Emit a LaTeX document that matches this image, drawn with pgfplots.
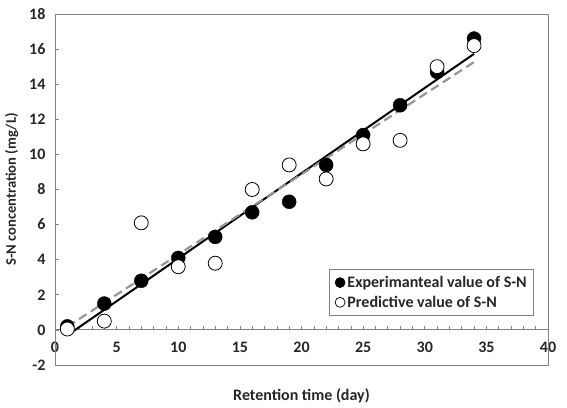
\documentclass[border=0pt]{standalone}
\usepackage{pgfplots}
\pgfplotsset{compat=1.18}
\usepackage{fontspec}
\setmainfont{Carlito}
\definecolor{framegray}{RGB}{130,130,130}
\definecolor{dashgray}{RGB}{150,150,150}
\begin{document}
\begin{tikzpicture}
\begin{axis}[
  scale only axis,
  width=493pt, height=351pt,
  xmin=0, xmax=40, ymin=-2, ymax=18,
  axis x line=middle, axis y line=left,
  axis line style={framegray, line width=0.8pt, -},
  hide obscured x ticks=false, hide obscured y ticks=false,
  xtick={0,5,...,40}, ytick={-2,0,...,18},
  minor x tick num=4,
  tick align=inside,
  major tick length=4pt, minor tick length=4pt,
  tick style={framegray, line width=0.6pt},
  /pgf/number format/assume math mode=true,
  tick label style={font=\bfseries\fontsize{16}{18}\selectfont, text=black!85},
  xticklabel style={yshift=-9pt},
  yticklabel style={xshift=-6pt},
  xlabel={Retention time (day)},
  ylabel={S-N concentration (mg/L)},
  xlabel style={at={(rel axis cs:0.5,0)}, anchor=north, yshift=-20pt, font=\bfseries\fontsize{16}{18}\selectfont, text=black!85},
  ylabel style={at={(rel axis cs:0,0.5)}, anchor=south, yshift=33pt, font=\bfseries\fontsize{14.6}{17}\selectfont, text=black!85},
  clip=false,
  legend style={at={(rel axis cs:0.9716,0.1396)}, anchor=south east, draw=framegray, line width=0.6pt,
    font=\bfseries\fontsize{16}{18}\selectfont, text=black!85, row sep=3pt, inner xsep=5pt, inner ysep=5pt},
  legend cell align=left,
]
\draw[framegray, line width=0.8pt] (rel axis cs:0,0) rectangle (rel axis cs:1,1);
\addplot[only marks, mark=*, mark size=7pt, mark options={fill=black, draw=black},
  legend image code/.code={\fill[black] (0.2cm,0cm) circle (5pt);}] coordinates {
(1,0.2) (4,1.5) (7,2.8) (10,4.1) (13,5.3) (16,6.7) (19,7.3) (22,9.4) (25,11.1) (28,12.8) (31,14.7) (34,16.6)};
\addlegendentry{Experimanteal value of S-N}
\addplot[only marks, mark=*, mark size=7pt, mark options={fill=white, draw=black, line width=0.8pt},
  legend image code/.code={\draw[black, fill=white, line width=0.7pt] (0.2cm,0cm) circle (5pt);}] coordinates {
(1,0.05) (4,0.5) (7,6.1) (10,3.6) (13,3.8) (16,8.0) (19,9.4) (22,8.6) (25,10.6) (28,10.8) (31,15.0) (34,16.2)};
\addlegendentry{Predictive value of S-N}
\addplot[black, line width=2pt, forget plot] coordinates {(1,-0.31) (34,15.73)};
\addplot[dashgray, line width=2.2pt, dash pattern=on 9pt off 5pt, forget plot] coordinates {(1,0.18) (34,15.26)};
\coordinate (ll) at (rel axis cs:0,0);
\coordinate (ur) at (rel axis cs:1,1);
\end{axis}
\pgfresetboundingbox
\path[use as bounding box] ([xshift=-55pt,yshift=-43pt]ll) rectangle ([xshift=19pt,yshift=14pt]ur);
\end{tikzpicture}
\end{document}
